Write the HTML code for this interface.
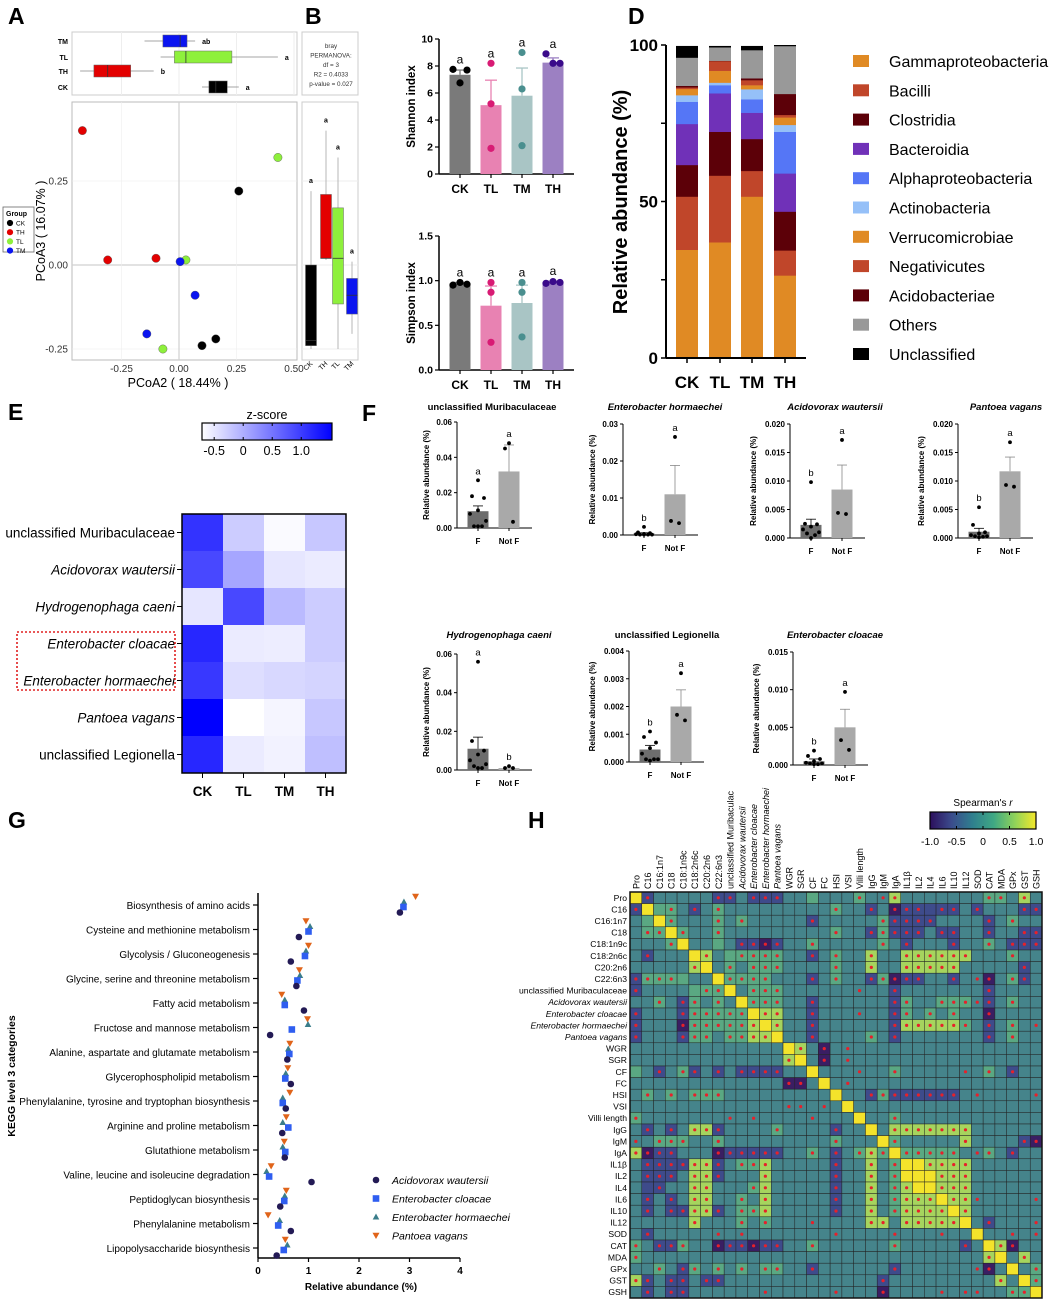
<!DOCTYPE html>
<html><head><meta charset="utf-8">
<style>
html,body{margin:0;padding:0;background:#fff;}
svg{display:block;font-family:"Liberation Sans",Arial,sans-serif;}
</style></head>
<body>
<svg id="fig" width="1059" height="1303" viewBox="0 0 1059 1303"></svg>
<script>
// ===== DATA =====
// Panel A
const pcoaGroups=['CK','TH','TL','TM'];
const pcoaX=[[0.26,0.16,0.10],[-0.42,-0.31,-0.10],[0.43,0.03,-0.07],[0.005,0.07,-0.14]];
const pcoaY=[[0.22,-0.22,-0.24],[0.40,0.015,0.02],[0.32,0.015,-0.25],[0.01,-0.09,-0.205]];
const topBoxGroups=['TM','TL','TH','CK'];
const topBoxQ1=[-0.07,-0.02,-0.37,0.13];
const topBoxQ3=[0.035,0.23,-0.21,0.21];
const topBoxMed=[0.005,0.03,-0.31,0.16];
const topBoxLo=[-0.15,-0.08,-0.43,0.10];
const topBoxHi=[0.07,0.43,-0.11,0.26];
const topBoxLetters=['ab','a','b','a'];
const sideBoxGroups=['CK','TH','TL','TM'];
const sideBoxQ1=[-0.24,0.02,-0.116,-0.146];
const sideBoxQ3=[0.0,0.21,0.17,-0.04];
const sideBoxMed=[-0.225,0.02,0.02,-0.09];
const sideBoxLo=[-0.25,0.015,-0.25,-0.205];
const sideBoxHi=[0.22,0.40,0.32,0.01];
// Panels B, C
const divGroups=['CK','TL','TM','TH'];
const shannonMean=[7.35,5.1,5.8,8.25];
const shannonErr=[0.35,1.85,2.05,0.35];
const shannonPts=[[7.75,6.75,7.7],[8.2,5.2,1.9],[9.0,6.3,2.1],[8.9,8.2,8.2]];
const simpsonMean=[0.97,0.72,0.75,0.985];
const simpsonErr=[0.01,0.22,0.2,0.01];
const simpsonPts=[[0.95,0.98,0.96],[0.98,0.87,0.31],[0.98,0.87,0.37],[0.97,0.99,0.98]];
// Panel D
const taxa=['Gammaproteobacteria','Bacilli','Clostridia','Bacteroidia','Alphaproteobacteria','Actinobacteria','Verrucomicrobiae','Negativicutes','Acidobacteriae','Others','Unclassified'];
const stackCK=[34.6,17,10.1,13.1,7.1,2.1,2,0.5,0.5,9,3.7];
const stackTL=[37,21.3,14,12.3,2.6,0.8,3.8,3.1,0.1,4.3,0.4];
const stackTM=[51.6,8.2,10.2,8.4,4.3,3.2,1.3,1.6,0.6,9,1.3];
const stackTH=[26.4,8,12.4,12.2,13.3,2.2,2.4,0.8,6.7,15.3,0.3];
// Panel E
const zRows=['unclassified Muribaculaceae','Acidovorax wautersii','Hydrogenophaga caeni','Enterobacter cloacae','Enterobacter hormaechei','Pantoea vagans','unclassified Legionella'];
const zCols=['CK','TL','TM','TH'];
const zVals=[[1.08,-0.26,-0.67,-0.22],[0.9,0.07,-0.49,-0.53],[-0.49,0.9,-0.1,-0.26],[1.19,-0.53,-0.55,-0.26],[1.04,-0.42,-0.37,-0.33],[1.53,-0.71,-0.62,-0.22],[1.19,-0.53,-0.6,-0.15]];
const zTicks=[-0.5,0,0.5,1.0];
// Panel F
const fTitles=['unclassified Muribaculaceae','Enterobacter hormaechei','Acidovorax wautersii','Pantoea vagans','Hydrogenophaga caeni','unclassified Legionella','Enterobacter cloacae'];
const fTicks=[[0,0.02,0.04,0.06],[0,0.01,0.02,0.03],[0,0.005,0.010,0.015,0.020],[0,0.005,0.010,0.015,0.020],[0,0.02,0.04,0.06],[0,0.001,0.002,0.003,0.004],[0,0.005,0.010,0.015]];
const fTickLabels=[['0.00','0.02','0.04','0.06'],['0.00','0.01','0.02','0.03'],['0.000','0.005','0.010','0.015','0.020'],['0.000','0.005','0.010','0.015','0.020'],['0.00','0.02','0.04','0.06'],['0.000','0.001','0.002','0.003','0.004'],['0.000','0.005','0.010','0.015']];
const fMeanF=[0.0095,0.0004,0.0023,0.0011,0.011,0.00045,0.0005];
const fErrF=[0.003,0.0002,0.001,0.0006,0.006,0.00015,0.0003];
const fMeanN=[0.032,0.011,0.0085,0.0117,0.001,0.002,0.005];
const fErrN=[0.015,0.0078,0.0043,0.0025,0.0004,0.0006,0.0024];
const fPtsF=[[0.027,0.018,0.017,0.01,0.008,0.004,0.001,0.001,0.001],[0.0022,0.0007,0.0005,0.0003,0.0002,0.0001,0.0001,0.0001,0.0001],[0.0098,0.0025,0.0024,0.002,0.0015,0.001,0.0008,0.0005,0.0],[0.0054,0.0023,0.001,0.0008,0.0005,0.0003,0.0003,0.0002,0.0001],[0.056,0.015,0.01,0.008,0.005,0.003,0.002,0.001,0.001],[0.0011,0.0009,0.0007,0.0005,0.0003,0.0001,0.0001,0.0001,0.00005],[0.0019,0.0012,0.0008,0.0005,0.0003,0.0002,0.0002,0.0001,0.0001]];
const fPtsN=[[0.048,0.045,0.0035],[0.0265,0.0038,0.0032],[0.0172,0.0044,0.0042],[0.0168,0.0093,0.009],[0.002,0.001,0.001],[0.0032,0.0017,0.0015],[0.0097,0.0033,0.002]];
const fLetterF=['a','b','b','b','a','b','b'];
const fLetterN=['a','a','a','a','b','a','a'];
// Panel G
const keggCats=['Biosynthesis of amino acids','Cysteine and methionine metabolism','Glycolysis / Gluconeogenesis','Glycine, serine and threonine metabolism','Fatty acid metabolism','Fructose and mannose metabolism','Alanine, aspartate and glutamate metabolism','Glycerophospholipid metabolism','Phenylalanine, tyrosine and tryptophan biosynthesis','Arginine and proline metabolism','Glutathione metabolism','Valine, leucine and isoleucine degradation','Peptidoglycan biosynthesis','Phenylalanine metabolism','Lipopolysaccharide biosynthesis'];
const keggAcid=[2.81,0.81,0.65,0.76,0.91,0.24,0.58,0.65,0.55,0.48,0.53,1.06,0.44,0.65,0.37];
const keggEcl=[2.88,1.0,0.93,0.78,0.53,0.67,0.62,0.54,0.49,0.60,0.54,0.22,0.52,0.40,0.51];
const keggEho=[2.89,1.03,0.95,0.83,0.53,0.99,0.60,0.55,0.49,0.49,0.49,0.17,0.53,0.43,0.58];
const keggPant=[3.12,0.95,1.0,0.82,0.47,0.98,0.63,0.59,0.63,0.56,0.52,0.26,0.56,0.20,0.54];
const keggSeries=['Acidovorax wautersii','Enterobacter cloacae','Enterobacter hormaechei','Pantoea vagans'];
const keggTicks=[0,1,2,3,4];
// Panel H (lower triangle levels: 0..5 ; A..F = same level with significance star)
const hLabels=['Pro','C16','C16:1n7','C18','C18:1n9c','C18:2n6c','C20:2n6','C22:6n3','unclassified Muribaculaceae','Acidovorax wautersii','Enterobacter cloacae','Enterobacter hormaechei','Pantoea vagans','WGR','SGR','CF','FC','HSI','VSI','Villi length','IgG','IgM','IgA','IL1β','IL2','IL4','IL6','IL10','IL12','SOD','CAT','MDA','GPx','GST','GSH'];
const hRows=[
"5","B5","235","2DD5","222D5","2B2225","22222E5","BDDD3225","B22223DD5","22D2BD2D25",
"B222BDDDDD5","B222ADDDDDE5","B222BDD2DDEE5","22222222222225","2222222222222E5",
"32B2DB2B2BBBB225","2222222222222AA25","2D2D2DDD2222222225","2222222222222CC2C25","D2222222C2C2222C2225",
"2B2B2EEB2222D2222B225","C2DDD22D222222222D2225","EABB222ABBBBB22D2B2DED5","2BBBBEEB2DDE22222B22E2D5","2BBB2EEB222E22222B22E2D55",
"21B22EE222DE22222B22E2DE55","2B2B2EE22D2E22222B22E2DEEE5","2B2BBEEB2DDE22222B22E2DEEEE5","22222E222D2D222C2222EE2EEEEE5","2B22222C2C2222222C2222C222C225",
"D2BBD22ABBABB22D2"+"2"+"22"+"22D"+"22222"+"B"+"2"+"5",
"D22222222222222222222222222222E5",
"22D2BD2D"+"2D2D"+"D22B2"+"2"+"22"+"22B"+"22222"+"2"+"C"+"A"+"2"+"5",
"EB2BB2BB"+"2222"+"22222"+"2"+"22"+"2B2"+"22222"+"2"+"2"+"2"+"E"+"2"+"5",
"2B2BB222"+"222C"+"22222"+"C"+"22"+"2A2"+"222C2"+"C"+"C"+"2"+"2"+"D"+"D"+"5"
];
const hTicks=[-1.0,-0.5,0,0.5,1.0];
const hTickLabels=['-1.0','-0.5','0','0.5','1.0'];

// ===== HELPERS =====
const NS='http://www.w3.org/2000/svg';
const svg=document.getElementById('fig');
function mk(tag,attrs,parent){const e=document.createElementNS(NS,tag);for(const k in attrs)e.setAttribute(k,attrs[k]);(parent||svg).appendChild(e);return e;}
function tx(x,y,s,attrs,parent){const e=mk('text',Object.assign({x:x,y:y},attrs||{}),parent);e.textContent=s;return e;}
function grp(parent){return mk('g',{},parent);}

// panel letters
[['A',8,24],['B',305,24],['C',305,220],['D',628,24],['E',8,420],['F',362,421],['G',8,828],['H',528,828]].forEach(p=>{
  const t=tx(p[1],p[2],p[0],{'font-size':23,'font-weight':'bold'});
  
  
});

// ===== PANEL A =====
const pcoaCol={CK:'#000',TH:'#e30000',TL:'#8ef03c',TM:'#0a14f0'};
const axA=v=>179+v/0.25*57.5, ayA=v=>265-v/0.25*84;
const gA=grp();


mk('rect',{x:72,y:102,width:225,height:258,fill:'#fff',stroke:'#bbb'},gA);
[-0.25,0,0.25].forEach(v=>{mk('line',{x1:72,x2:297,y1:ayA(v),y2:ayA(v),stroke:v==0?'#d0d0d0':'#eee','stroke-width':v==0?1.2:0.6},gA);});
[-0.25,0,0.25].forEach(v=>{mk('line',{y1:102,y2:360,x1:axA(v),x2:axA(v),stroke:v==0?'#d0d0d0':'#eee','stroke-width':v==0?1.2:0.6},gA);});
['-0.25','0.00','0.25','0.50'].forEach((s,i)=>{tx(axA(-0.25+i*0.25),372,s,{'font-size':10,'text-anchor':'middle',fill:'#333'},gA);});
['0.25','0.00','-0.25'].forEach((s,i)=>{tx(68,ayA(0.25-i*0.25)+3.5,s,{'font-size':10,'text-anchor':'end',fill:'#333'},gA);});
tx(178,387,'PCoA2 ( 18.44% )',{'font-size':12.5,'text-anchor':'middle'},gA);
tx(0,0,'PCoA3 ( 16.07% )',{'font-size':12.5,'text-anchor':'middle',transform:'translate(45,231) rotate(-90)'},gA);
pcoaGroups.forEach((g,gi)=>{pcoaX[gi].forEach((v,j)=>{
  const c=mk('circle',{cx:axA(v),cy:ayA(pcoaY[gi][j]),r:4.2,fill:pcoaCol[g],stroke:'#555','stroke-width':0.4},gA);
  
  
});});
// legend
const gAL=grp();


mk('rect',{x:3,y:207,width:31,height:45,fill:'#fff',stroke:'#666','stroke-width':0.8},gAL);
tx(6,216,'Group',{'font-size':7,'font-weight':'bold'},gAL);
pcoaGroups.forEach((g,i)=>{mk('circle',{cx:10,cy:223+i*9.2,r:3.1,fill:pcoaCol[g]},gAL);tx(16,225.5+i*9.2,g,{'font-size':6.5},gAL);});
// top box
const gAT=grp();


mk('rect',{x:72,y:32,width:225,height:63,fill:'#fff',stroke:'#ccc'},gAT);
[-0.25,0,0.25,0.5].forEach(v=>mk('line',{x1:axA(v),x2:axA(v),y1:32,y2:95,stroke:'#eee'},gAT));
const topY=[41,57,71,87];
topBoxGroups.forEach((g,i)=>{
  const y=topY[i];
  tx(68,y+3,g,{'font-size':7,'font-weight':'bold','text-anchor':'end'},gAT);
  mk('line',{x1:axA(topBoxLo[i]),x2:axA(topBoxHi[i]),y1:y,y2:y,stroke:'#888','stroke-width':0.7},gAT);
  const b=mk('rect',{x:axA(topBoxQ1[i]),y:y-6,width:axA(topBoxQ3[i])-axA(topBoxQ1[i]),height:12,fill:pcoaCol[g],stroke:'#666','stroke-width':0.5},gAT);
  
  
  mk('line',{x1:axA(topBoxMed[i]),x2:axA(topBoxMed[i]),y1:y-6,y2:y+6,stroke:'#333','stroke-width':0.8},gAT);
  tx(axA(topBoxHi[i])+7,y+3,topBoxLetters[i],{'font-size':7,'font-weight':'bold'},gAT);
});
// stats box
const gAS=grp();


mk('rect',{x:302,y:32,width:56,height:63,fill:'#fff',stroke:'#ccc'},gAS);
['bray','PERMANOVA:','df = 3','R2 = 0.4033','p-value = 0.027'].forEach((s,i)=>tx(331,48+i*9.5,s,{'font-size':6.3,'text-anchor':'middle',fill:'#333'},gAS));
// side box
const gAR=grp();


mk('rect',{x:302,y:102,width:56,height:258,fill:'#fff',stroke:'#ccc'},gAR);
[-0.25,0,0.25].forEach(v=>mk('line',{x1:302,x2:358,y1:ayA(v),y2:ayA(v),stroke:'#eee'},gAR));
const sideX=[311,326,338,352];
sideBoxGroups.forEach((g,i)=>{
  const x=sideX[i];
  mk('line',{x1:x,x2:x,y1:ayA(sideBoxLo[i]),y2:ayA(sideBoxHi[i]),stroke:'#999','stroke-width':0.7},gAR);
  const b=mk('rect',{x:x-5.5,y:ayA(sideBoxQ3[i]),width:11,height:ayA(sideBoxQ1[i])-ayA(sideBoxQ3[i]),fill:pcoaCol[g],stroke:'#666','stroke-width':0.5},gAR);
  
  
  mk('line',{x1:x-5.5,x2:x+5.5,y1:ayA(sideBoxMed[i]),y2:ayA(sideBoxMed[i]),stroke:'#333','stroke-width':0.8},gAR);
  tx(x,ayA(sideBoxHi[i])-8,'a',{'font-size':7,'font-weight':'bold','text-anchor':'middle'},gAR);
  tx(0,0,g,{'font-size':7,'text-anchor':'end',transform:`translate(${x+2},364) rotate(-45)`},gAR);
});

// ===== PANELS B, C =====
const divFill=['#7a7a7a','#e882b2','#a9c5c5','#9c80c2'];
const divPt=['#000','#d81b74','#4a8f8f','#3a0a8a'];
const divX=[460,491,522,553];
function divPanel(name,mean,err,pts,y0,yT,max,ticks,tickLabels,ylabel){
  const g=grp();
  
  
  const sy=v=>y0-v/max*(y0-yT);
  mk('line',{x1:439,x2:439,y1:y0,y2:yT,stroke:'#000','stroke-width':1.5},g);
  mk('line',{x1:439,x2:574,y1:y0,y2:y0,stroke:'#000','stroke-width':1.5},g);
  ticks.forEach((v,i)=>{mk('line',{x1:435,x2:439,y1:sy(v),y2:sy(v),stroke:'#000','stroke-width':1.2},g);tx(433,sy(v)+3.5,tickLabels[i],{'font-size':10.5,'font-weight':'bold','text-anchor':'end'},g);});
  tx(0,0,ylabel,{'font-size':11.5,'font-weight':'bold','text-anchor':'middle',transform:`translate(${415},${(y0+yT)/2}) rotate(-90)`},g);
  divGroups.forEach((c,i)=>{
    const x=divX[i];
    const b=mk('rect',{x:x-10.5,y:sy(mean[i]),width:21,height:y0-sy(mean[i]),fill:divFill[i]},g);
    
    
    mk('line',{x1:x,x2:x,y1:sy(mean[i]),y2:sy(mean[i]+err[i]),stroke:divFill[i],'stroke-width':1.3},g);
    mk('line',{x1:x-6,x2:x+6,y1:sy(mean[i]+err[i]),y2:sy(mean[i]+err[i]),stroke:divFill[i],'stroke-width':1.3},g);
    const off=[-7,0,7];
    pts[i].forEach((p,j)=>mk('circle',{cx:x+(pts[i].length==3?off[j]:0)*(c=='CK'||c=='TH'?1:0),cy:sy(p),r:3.6,fill:divPt[i]},g));
    const top=Math.max(mean[i]+err[i],...pts[i]);
    tx(x,sy(top)-6,'a',{'font-size':12,'text-anchor':'middle'},g);
    mk('line',{x1:x,x2:x,y1:y0,y2:y0+4,stroke:'#000','stroke-width':1.2},g);
    tx(x,y0+19,c,{'font-size':12,'font-weight':'bold','text-anchor':'middle'},g);
  });
}
divPanel('shannon-chart',shannonMean,shannonErr,shannonPts,174,39,10,[0,2,4,6,8,10],['0','2','4','6','8','10'],'Shannon index');
divPanel('simpson-chart',simpsonMean,simpsonErr,simpsonPts,370,236,1.5,[0,0.5,1.0,1.5],['0.0','0.5','1.0','1.5'],'Simpson index');

// ===== PANEL D =====
const taxaCol=['#e08a24','#c0462a','#5c0008','#7031b8','#5576f6','#95c0f8','#e08a24','#c0462a','#5c0008','#999999','#000000'];
const stacks=[stackCK,stackTL,stackTM,stackTH];
const dX=[687,720,752,785];
const dy=v=>358-v/100*313;
const gD=grp();


stacks.forEach((s,i)=>{
  let acc=0;
  s.forEach((v,k)=>{
    const r=mk('rect',{x:dX[i]-11,y:dy(acc+v),width:22,height:dy(acc)-dy(acc+v)+0.3,fill:taxaCol[k]},gD);
    
    
    acc+=v;
  });
  mk('line',{x1:dX[i],x2:dX[i],y1:358,y2:363,stroke:'#000','stroke-width':1.5},gD);
  tx(dX[i],388,divGroups[i],{'font-size':17,'font-weight':'bold','text-anchor':'middle'},gD);
});
mk('line',{x1:666,x2:666,y1:45,y2:358,stroke:'#000','stroke-width':2},gD);
mk('line',{x1:666,x2:806,y1:358,y2:358,stroke:'#000','stroke-width':2},gD);
[0,25,50,75,100].forEach(v=>mk('line',{x1:661,x2:666,y1:dy(v),y2:dy(v),stroke:'#000','stroke-width':1.5},gD));
[[0,'0'],[50,'50'],[100,'100']].forEach(p=>tx(658,dy(p[0])+6,p[1],{'font-size':17,'font-weight':'bold','text-anchor':'end'},gD));
tx(0,0,'Relative abundance (%)',{'font-size':20,'font-weight':'bold','text-anchor':'middle',transform:'translate(627,202) rotate(-90)'},gD);
const gDL=grp();


taxa.forEach((t,k)=>{
  const y=61+k*29.3;
  mk('rect',{x:853,y:y-6,width:16,height:12,fill:taxaCol[k]},gDL);
  const e=tx(889,y+6,t,{'font-size':16},gDL);
  
  
});

// ===== PANEL E =====
const gE=grp();


const zMin=-0.71,zMax=1.53;
function zColor(v){let t=(v-zMin)/(zMax-zMin);t=Math.max(0,Math.min(1,t));const r=Math.round(255*(1-t)),gg=Math.round(255*(1-t)),b=255;return `rgb(${r},${gg},${b})`;}
const defs=mk('defs',{});
const lg=mk('linearGradient',{id:'zgrad',x1:0,x2:1,y1:0,y2:0},defs);
mk('stop',{offset:0,'stop-color':'#fff'},lg);mk('stop',{offset:1,'stop-color':'#0000ff'},lg);
const lg2=mk('linearGradient',{id:'vgrad',x1:0,x2:1,y1:0,y2:0},defs);
['#2c0f5c','#3b4b8c','#2f7f8e','#3fa884','#8fd35a','#f4e82a'].forEach((c,i)=>mk('stop',{offset:i/5,'stop-color':c},lg2));
tx(267,419,'z-score',{'font-size':12.5,'text-anchor':'middle'},gE);
mk('rect',{x:202,y:423,width:130,height:17,fill:'url(#zgrad)',stroke:'#000','stroke-width':1.2},gE);
const zx=v=>202+(v-zMin)/(zMax-zMin)*130;
zTicks.forEach(v=>{mk('line',{x1:zx(v),x2:zx(v),y1:423,y2:426,stroke:'#000'},gE);mk('line',{x1:zx(v),x2:zx(v),y1:437,y2:440,stroke:'#000'},gE);tx(zx(v),455,String(v==1?'1.0':v),{'font-size':12.5,'text-anchor':'middle'},gE);});
const eX0=182,eY0=514,eW=164/4,eH=259/7;
zRows.forEach((r,i)=>{
  zCols.forEach((c,j)=>{
    const cell=mk('rect',{x:eX0+j*eW,y:eY0+i*eH,width:eW+0.3,height:eH+0.3,fill:zColor(zVals[i][j])},gE);
    
    
  });
  const it=(r.indexOf('unclassified')<0);
  tx(175,eY0+i*eH+eH/2+5,r,{'font-size':13.5,'text-anchor':'end','font-style':it?'italic':'normal'},gE);
  mk('line',{x1:177,x2:182,y1:eY0+i*eH+eH/2,y2:eY0+i*eH+eH/2,stroke:'#000'},gE);
});
mk('rect',{x:eX0,y:eY0,width:164,height:259,fill:'none',stroke:'#000','stroke-width':1.5},gE);
zCols.forEach((c,j)=>{mk('line',{x1:eX0+j*eW+eW/2,x2:eX0+j*eW+eW/2,y1:773,y2:778,stroke:'#000'},gE);tx(eX0+j*eW+eW/2,796,c,{'font-size':13.5,'font-weight':'bold','text-anchor':'middle'},gE);});
const hl=mk('rect',{x:17,y:632,width:158,height:58,fill:'none',stroke:'#e02020','stroke-width':1.6,'stroke-dasharray':'2,2'},gE);



// ===== PANEL F =====
const fLayout=[[457,528,422,492,410],[623,535,424,665,410],[790,538,424,835,410],[958,538,424,1006,410],[457,770,654,499,638],[629,762,651,667,638],[793,765,652,835,638]];
fTitles.forEach((title,p)=>{
  const [ax,y0,yT,tX,tY]=fLayout[p];
  const g=grp();
  
  
  const tk=fTicks[p],max=tk[tk.length-1];
  const sy=v=>y0-v/max*(y0-yT);
  const it=title.indexOf('unclassified')<0;
  tx(tX,tY,title,{'font-size':9.5,'font-weight':'bold','text-anchor':'middle','font-style':it?'italic':'normal'},g);
  mk('line',{x1:ax,x2:ax,y1:y0,y2:yT,stroke:'#000','stroke-width':1}, g);
  mk('line',{x1:ax,x2:ax+75,y1:y0,y2:y0,stroke:'#000','stroke-width':1},g);
  tk.forEach((v,i)=>{mk('line',{x1:ax-3,x2:ax,y1:sy(v),y2:sy(v),stroke:'#000'},g);tx(ax-5,sy(v)+3,fTickLabels[p][i],{'font-size':8,'font-weight':'bold','text-anchor':'end'},g);});
  tx(0,0,'Relative abundance (%)',{'font-size':8,'font-weight':'bold','text-anchor':'middle',transform:`translate(${ax-(fTickLabels[p][0].length>4?34:28)},${(y0+yT)/2}) rotate(-90)`},g);
  const bx=[ax+21,ax+52],means=[fMeanF[p],fMeanN[p]],errs=[fErrF[p],fErrN[p]],pts=[fPtsF[p],fPtsN[p]],lets=[fLetterF[p],fLetterN[p]],fills=['#6d6d6d','#a9a9a9'],labs=['F','Not F'];
  [0,1].forEach(k=>{
    const b=mk('rect',{x:bx[k]-10.5,y:sy(means[k]),width:21,height:y0-sy(means[k]),fill:fills[k]},g);
    
    
    const te=sy(means[k]+errs[k]);
    mk('line',{x1:bx[k],x2:bx[k],y1:sy(means[k]),y2:te,stroke:k?'#888':'#000','stroke-width':0.8},g);
    mk('line',{x1:bx[k]-5,x2:bx[k]+5,y1:te,y2:te,stroke:k?'#888':'#000','stroke-width':0.8},g);
    const off9=[0,-6,6,0,-8,8,-4,4,0];
    pts[k].forEach((v,j)=>mk('circle',{cx:bx[k]+(k==0?off9[j]:[0,-4,4][j]),cy:sy(v),r:1.9,fill:'#000'},g));
    const top=Math.max(means[k]+errs[k],...pts[k]);
    tx(bx[k],sy(top)-6,lets[k],{'font-size':9.5,'text-anchor':'middle'},g);
    mk('line',{x1:bx[k],x2:bx[k],y1:y0,y2:y0+3,stroke:'#000'},g);
    tx(bx[k],y0+16,labs[k],{'font-size':8,'font-weight':'bold','text-anchor':'middle'},g);
  });
});

// ===== PANEL G =====
const gG=grp();


const gx=v=>258+v*50.5, gy=i=>905+i*24.5;
mk('line',{x1:258,x2:258,y1:893,y2:1258,stroke:'#000','stroke-width':1.5},gG);
mk('line',{x1:258,x2:460,y1:1258,y2:1258,stroke:'#000','stroke-width':1.5},gG);
keggTicks.forEach(v=>{mk('line',{x1:gx(v),x2:gx(v),y1:1258,y2:1262,stroke:'#000','stroke-width':1.2},gG);tx(gx(v),1274,String(v),{'font-size':10,'font-weight':'bold','text-anchor':'middle'},gG);});
tx(361,1290,'Relative abundance (%)',{'font-size':10,'font-weight':'bold','text-anchor':'middle'},gG);
tx(0,0,'KEGG level 3 categories',{'font-size':10.5,'font-weight':'bold','text-anchor':'middle',transform:'translate(15,1076) rotate(-90)'},gG);
const mkCol=['#231a55','#2f5ef0','#3a7d8a','#e0641a'];
function marker(type,x,y,parent){
  if(type==0)return mk('circle',{cx:x,cy:y,r:3.3,fill:mkCol[0]},parent);
  if(type==1)return mk('rect',{x:x-3.3,y:y-3.3,width:6.6,height:6.6,fill:mkCol[1]},parent);
  if(type==2)return mk('polygon',{points:`${x},${y-3.5} ${x-3.3},${y+2.5} ${x+3.3},${y+2.5}`,fill:mkCol[2]},parent);
  return mk('polygon',{points:`${x},${y+3.5} ${x-3.5},${y-2.7} ${x+3.5},${y-2.7}`,fill:mkCol[3]},parent);
}
const keggAll=[keggAcid,keggEcl,keggEho,keggPant];
const yOff=[7.5,2,-3,-8.5];
keggCats.forEach((c,i)=>{
  const y=gy(i);
  mk('line',{x1:253,x2:258,y1:y,y2:y,stroke:'#000','stroke-width':1.2},gG);
  tx(250,y+4,c,{'font-size':10,'text-anchor':'end'},gG);
  [3,2,1,0].forEach(s=>{
    const m=marker(s,gx(keggAll[s][i]),y+yOff[s],gG);
    
    
  });
});
const gGL=grp();


keggSeries.forEach((s,k)=>{
  const y=1180+k*18.5;
  marker(k,376,y,gGL);
  tx(392,y+4,s,{'font-size':10.5,'font-style':'italic'},gGL);
});

// ===== PANEL H =====
const gH=grp();


const hCol=['#3a1e63','#3e4b8b','#45848b','#5aa882','#a6d45e','#f4e32b'];
const N=hLabels.length,hX0=630,hY0=892,cw=412/N,ch=406/N;
function lev(i,j){const a=Math.max(i,j),b=Math.min(i,j);let s=hRows[a]||'';let c=s[b]||'2';if(a==b)c='5';const code=c.charCodeAt(0);if(code>=65)return [code-65,true];return [code-48,false];}
for(let i=0;i<N;i++){for(let j=0;j<N;j++){
  const [l,st]=lev(i,j);
  const cell=mk('rect',{x:hX0+j*cw,y:hY0+i*ch,width:cw,height:ch,fill:hCol[l],stroke:'#222','stroke-width':0.5},gH);
  
  
  if(st&&i!=j)mk('circle',{cx:hX0+j*cw+cw/2,cy:hY0+i*ch+ch/2,r:1.6,fill:'#e8202a'},gH);
}}
mk('rect',{x:hX0,y:hY0,width:412,height:406,fill:'none',stroke:'#111','stroke-width':1.5},gH);
hLabels.forEach((s,k)=>{
  const it=(k>=9&&k<=12);
  tx(627,hY0+k*ch+ch/2+3,s,{'font-size':8.6,'text-anchor':'end','font-style':it?'italic':'normal'},gH);
  const lab=s.length>24?s.slice(0,24):s;
  tx(0,0,lab,{'font-size':9,'font-style':it?'italic':'normal',transform:`translate(${hX0+k*cw+cw/2+3.5},889) rotate(-90)`},gH);
});
const gHL=grp();


const hx=v=>930+(v+1)/2*106;
const st=tx(983,806,"Spearman's ",{'font-size':10,'text-anchor':'middle'},gHL);
const ts=mk('tspan',{'font-style':'italic'},st);ts.textContent='r';
mk('rect',{x:930,y:812,width:106,height:17,fill:'url(#vgrad)',stroke:'#000','stroke-width':1.2},gHL);
hTicks.forEach((v,i)=>{mk('line',{x1:hx(v),x2:hx(v),y1:812,y2:815,stroke:'#000'},gHL);mk('line',{x1:hx(v),x2:hx(v),y1:826,y2:829,stroke:'#000'},gHL);tx(hx(v),845,hTickLabels[i],{'font-size':10.5,'text-anchor':'middle'},gHL);});
</script>
</body></html>
